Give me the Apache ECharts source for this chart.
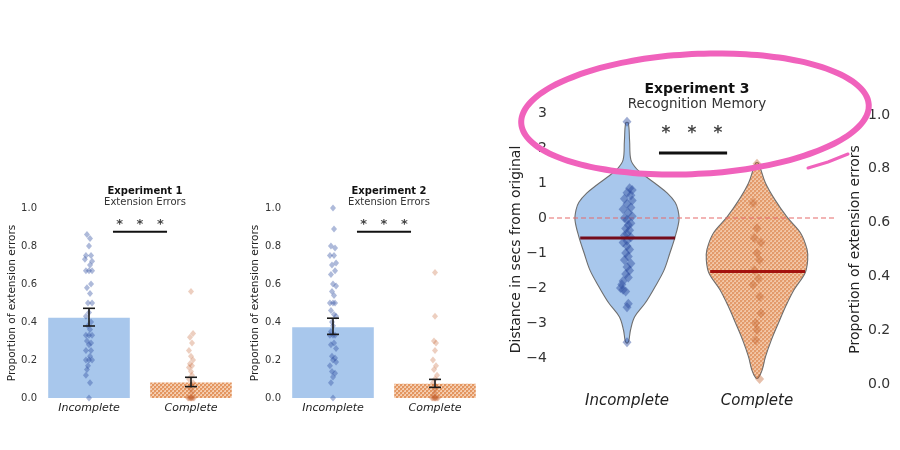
<!DOCTYPE html>
<html><head><meta charset="utf-8">
<script src="https://cdn.jsdelivr.net/npm/echarts@6/dist/echarts.min.js"></script>
<style>html,body{margin:0;padding:0;background:#fff}#c{width:900px;height:450px}</style>
</head><body><div id="c"></div>
<script>
// ---------- data ----------
const cats = ['Incomplete', 'Complete'];

// Experiment 1
const exp1Means = [0.423, 0.081];
const exp1ErrLow = [0.379, 0.06];
const exp1ErrHigh = [0.472, 0.109];
const exp1IncPts = [0.86,0.84,0.8,0.75,0.75,0.73,0.72,0.7,0.67,0.67,0.67,0.6,0.58,0.55,0.5,0.5,0.45,0.43,0.4,0.38,0.36,0.33,0.33,0.33,0.3,0.29,0.28,0.25,0.25,0.22,0.2,0.2,0.2,0.17,0.15,0.12,0.08,0.0];
const exp1IncJit = [-0.02,0.01,0.0,-0.03,0.02,-0.04,0.03,0.01,-0.03,0.0,0.03,0.02,-0.02,0.01,-0.01,0.03,0.0,-0.03,0.02,-0.01,0.01,-0.03,0.0,0.03,-0.02,0.02,0.0,-0.03,0.02,0.01,-0.03,0.0,0.03,-0.01,-0.02,-0.03,0.01,0.0];
const exp1ComPts = [0.56,0.34,0.32,0.29,0.25,0.22,0.2,0.18,0.17,0.16,0.14,0.12,0.1,0.08,0.07,0.05,0.03,0.0,0.0,0.0,0.0,0.0,0.0,0.0,0.0];
const exp1ComJit = [0.0,0.02,-0.01,0.01,-0.02,0.0,0.02,-0.01,0.01,-0.02,0.0,0.01,-0.02,0.02,0.0,-0.01,0.01,-0.03,-0.02,-0.01,0.0,0.01,0.02,0.03,0.0];

// Experiment 2
const exp2Means = [0.373, 0.075];
const exp2ErrLow = [0.335, 0.056];
const exp2ErrHigh = [0.42, 0.098];
const exp2IncPts = [1.0,0.89,0.8,0.79,0.75,0.75,0.71,0.7,0.67,0.65,0.6,0.59,0.56,0.54,0.5,0.5,0.5,0.46,0.44,0.43,0.4,0.38,0.35,0.33,0.33,0.33,0.29,0.28,0.26,0.22,0.21,0.2,0.19,0.17,0.14,0.13,0.11,0.08,0.0];
const exp2IncJit = [0.0,0.01,-0.02,0.02,-0.03,0.01,0.03,-0.01,0.02,-0.02,0.0,0.03,-0.01,0.01,-0.03,0.0,0.02,-0.02,0.01,0.03,-0.01,0.0,-0.02,-0.03,0.0,0.02,0.01,-0.02,0.03,-0.01,0.02,0.0,0.03,-0.03,-0.01,0.02,0.0,-0.02,0.0];
const exp2ComPts = [0.66,0.43,0.3,0.29,0.25,0.2,0.17,0.15,0.12,0.1,0.08,0.06,0.04,0.02,0.0,0.0,0.0,0.0,0.0,0.0,0.0,0.0];
const exp2ComJit = [0.0,0.0,-0.01,0.01,0.0,-0.02,0.01,-0.01,0.02,0.0,-0.02,0.01,0.0,-0.01,-0.03,-0.02,-0.01,0.0,0.01,0.02,0.03,0.0];

// Experiment 3 (violins: value levels and half-widths)
const exp3IncViolinY = [2.72,2.2,1.66,1.4,1.17,0.95,0.71,0.45,0.23,-0.06,-0.54,-1.0,-1.49,-1.97,-2.43,-2.83,-3.2,-3.49,-3.57];
const exp3IncViolinW = [0.01,0.02,0.03,0.075,0.15,0.23,0.31,0.37,0.392,0.4,0.37,0.33,0.285,0.215,0.14,0.058,0.027,0.015,0.005];
const exp3ComViolinY = [1.57,1.0,0.51,0.03,-0.43,-0.9,-1.2,-1.57,-2.05,-2.53,-3.0,-3.49,-3.97,-4.34,-4.57];
const exp3ComViolinW = [0.01,0.065,0.14,0.23,0.335,0.385,0.39,0.37,0.285,0.22,0.165,0.11,0.065,0.04,0.01];
const exp3Means = [-0.57, -1.53];
const exp3IncPts = [2.75,0.85,0.8,0.72,0.65,0.55,0.5,0.4,0.3,0.25,0.15,0.05,0.0,-0.05,-0.15,-0.2,-0.3,-0.35,-0.45,-0.5,-0.55,-0.65,-0.7,-0.8,-0.9,-1.0,-1.1,-1.2,-1.3,-1.4,-1.5,-1.6,-1.7,-1.8,-1.9,-2.0,-2.05,-2.1,-2.45,-2.55,-3.55];
const exp3IncJit = [0.0,0.02,0.04,0.0,0.03,-0.02,0.04,0.0,0.03,-0.03,0.01,0.04,-0.02,0.0,0.03,0.01,-0.01,0.02,0.0,-0.02,0.03,0.0,-0.03,0.0,0.02,-0.01,0.01,-0.02,0.03,0.0,0.02,-0.01,0.01,-0.03,-0.04,-0.05,-0.03,-0.01,0.01,0.0,0.0];
const exp3ComPts = [1.55,0.43,-0.29,-0.57,-0.7,-1.0,-1.2,-1.49,-1.73,-1.91,-2.25,-2.72,-3.0,-3.2,-3.49,-4.6];
const exp3ComJit = [0.0,-0.03,0.0,-0.02,0.03,0.0,0.02,-0.02,0.01,-0.03,0.02,0.03,-0.01,0.0,-0.01,0.02];
const zeroLine = [[-0.6, 0], [1.6, 0]];

// annotation positions (data coords)
const sig12Line = [[0.235, 0.875], [0.765, 0.875]];
const sig12Stars = [[0.3, 0.926], [0.5, 0.926], [0.7, 0.926]];
const sig3Line = [[0.246, 1.857], [0.77, 1.857]];
const sig3Stars = [[0.3, 2.52], [0.5, 2.52], [0.7, 2.52]];

// ---------- helpers ----------
const FONT = 'DejaVu Sans';
const BLUE_FILL = '#a8c7ec';
const BLUE_PT = '#2a4a9e';
const ORANGE_PT = '#c2612e';

function hatch(base, dark, mid) {
  const c = document.createElement('canvas');
  c.width = 4; c.height = 4;
  const g = c.getContext('2d');
  g.fillStyle = base; g.fillRect(0, 0, 4, 4);
  g.fillStyle = dark;
  g.fillRect(0, 0, 2, 2); g.fillRect(2, 2, 2, 2);
  g.fillStyle = mid;
  g.fillRect(2, 0, 1, 1); g.fillRect(0, 2, 1, 1);
  return c;
}
const hatchBar = { image: hatch('#f5cfb2', '#e39661', '#eeb58d'), repeat: 'repeat' };
const hatchViolin = { image: hatch('#f2c6a6', '#e39b6c', '#ecb38c'), repeat: 'repeat' };

const pts = (vals, jit, center) => vals.map((v, i) => [center + jit[i], v]);

function errRender(cap) {
  return function (params, api) {
    const x = api.value(0), lo = api.value(1), hi = api.value(2);
    const a = api.coord([x, lo]), b = api.coord([x, hi]);
    const st = { stroke: '#1a1a1a', lineWidth: 1.6 };
    return { type: 'group', children: [
      { type: 'line', shape: { x1: a[0], y1: a[1], x2: b[0], y2: b[1] }, style: st },
      { type: 'line', shape: { x1: a[0] - cap, y1: a[1], x2: a[0] + cap, y2: a[1] }, style: st },
      { type: 'line', shape: { x1: b[0] - cap, y1: b[1], x2: b[0] + cap, y2: b[1] }, style: st }
    ]};
  };
}

const violins = [
  { y: exp3IncViolinY, w: exp3IncViolinW },
  { y: exp3ComViolinY, w: exp3ComViolinW }
];
function violinRender(params, api) {
  const i = params.dataIndex, pos = api.value(0), v = violins[i];
  const p = [];
  for (let k = 0; k < v.y.length; k++) p.push(api.coord([pos + v.w[k], v.y[k]]));
  for (let k = v.y.length - 1; k >= 0; k--) p.push(api.coord([pos - v.w[k], v.y[k]]));
  return { type: 'polygon', shape: { points: p, smooth: 0.35 },
    style: { fill: i === 0 ? BLUE_FILL : hatchViolin, stroke: '#6e6e6e', lineWidth: 1.1 } };
}
function meanRender(params, api) {
  const x = api.value(0), m = api.value(1);
  const a = api.coord([x - 0.36, m]), b = api.coord([x + 0.37, m]);
  return { type: 'line', shape: { x1: a[0], y1: a[1], x2: b[0], y2: b[1] },
    style: { stroke: params.dataIndex === 0 ? '#750c1c' : '#a3120e', lineWidth: 3 } };
}

const starSeries = (xi, yi, data, fs, dy) => ({
  type: 'scatter', xAxisIndex: xi, yAxisIndex: yi, data: data, symbolSize: 2,
  itemStyle: { color: 'rgba(0,0,0,0)' }, silent: true,
  label: { show: true, position: 'inside', formatter: '*', fontSize: fs, fontFamily: FONT,
    color: '#111', fontWeight: 'bold', offset: [0, dy] }, z: 6 });

function barPanel(xCat, xVal, yIdx, means, lo, hi, incP, incJ, comP, comJ) {
  return [
    { type: 'bar', xAxisIndex: xCat, yAxisIndex: yIdx, barWidth: '80%',
      data: [ { value: means[0], itemStyle: { color: BLUE_FILL } },
              { value: means[1], itemStyle: { color: hatchBar } } ], z: 1, silent: true },
    { type: 'scatter', xAxisIndex: xVal, yAxisIndex: yIdx, symbol: 'diamond', symbolSize: [6, 7],
      itemStyle: { color: BLUE_PT, opacity: 0.38 }, data: pts(incP, incJ, 0), z: 3 },
    { type: 'scatter', xAxisIndex: xVal, yAxisIndex: yIdx, symbol: 'diamond', symbolSize: [6, 7],
      itemStyle: { color: ORANGE_PT, opacity: 0.3 }, data: pts(comP, comJ, 1), z: 3 },
    { type: 'custom', xAxisIndex: xVal, yAxisIndex: yIdx, renderItem: errRender(6),
      data: [[0, lo[0], hi[0]], [1, lo[1], hi[1]]], z: 5 },
    { type: 'line', xAxisIndex: xVal, yAxisIndex: yIdx, data: sig12Line, symbol: 'none',
      lineStyle: { color: '#111', width: 2 }, z: 5 },
    starSeries(xVal, yIdx, sig12Stars, 13, 3)
  ];
}

const catAxis = (gi, fs) => ({ type: 'category', gridIndex: gi, data: cats,
  axisLine: { show: false }, axisTick: { show: false },
  axisLabel: { fontStyle: 'italic', fontSize: fs, color: '#222', fontFamily: FONT, margin: 5 } });
const hidX = (gi, mn, mx) => ({ type: 'value', gridIndex: gi, min: mn, max: mx, show: false });
const propY = (gi, name, gap) => ({ type: 'value', gridIndex: gi, min: 0, max: 1, interval: 0.2,
  splitLine: { show: false }, axisLine: { show: false }, axisTick: { show: false },
  axisLabel: { formatter: v => v.toFixed(1), fontSize: 10, color: '#333', fontFamily: FONT, margin: 1 },
  name: name, nameLocation: 'middle', nameGap: gap, nameRotate: 90, nameMoveOverlap: false,
  nameTextStyle: { fontSize: 10.5, color: '#222', fontFamily: FONT } });

// pink hand-drawn ellipse annotation
const ell = [];
{
  const cx = 695, cy = 114, rx = 174, ry = 60, rot = -3 * Math.PI / 180;
  for (let t = 0; t <= 360; t += 4) {
    const a = t * Math.PI / 180;
    const x0 = rx * Math.cos(a), y0 = ry * Math.sin(a);
    ell.push([cx + x0 * Math.cos(rot) - y0 * Math.sin(rot), cy + x0 * Math.sin(rot) + y0 * Math.cos(rot)]);
  }
}

const option = {
  animation: false,
  textStyle: { fontFamily: FONT },
  title: [
    { text: 'Experiment 1', subtext: 'Extension Errors', left: 140, top: 181, textAlign: 'center', itemGap: 1,
      textStyle: { fontSize: 10, fontWeight: 'bold', color: '#111', fontFamily: FONT },
      subtextStyle: { fontSize: 10, color: '#333', fontFamily: FONT } },
    { text: 'Experiment 2', subtext: 'Extension Errors', left: 384, top: 181, textAlign: 'center', itemGap: 1,
      textStyle: { fontSize: 10, fontWeight: 'bold', color: '#111', fontFamily: FONT },
      subtextStyle: { fontSize: 10, color: '#333', fontFamily: FONT } },
    { text: 'Experiment 3', subtext: 'Recognition Memory', left: 692, top: 77, textAlign: 'center', itemGap: 1,
      textStyle: { fontSize: 14, fontWeight: 'bold', color: '#111', fontFamily: FONT },
      subtextStyle: { fontSize: 13.5, color: '#333', fontFamily: FONT } }
  ],
  grid: [
    { left: 38, top: 208, width: 204, height: 190 },
    { left: 282, top: 208, width: 204, height: 190 },
    { left: 549, top: 106, width: 286, height: 287 },
    { left: 549, top: 115, width: 286, height: 269 }
  ],
  xAxis: [
    catAxis(0, 11), hidX(0, -0.5, 1.5),
    catAxis(1, 11), hidX(1, -0.5, 1.5),
    { type: 'value', gridIndex: 2, min: -0.6, max: 1.6,
      axisLine: { show: false }, axisTick: { show: false }, splitLine: { show: false },
      axisLabel: { customValues: [0, 1], formatter: v => cats[Math.round(v)], fontStyle: 'italic',
        fontSize: 15, color: '#222', fontFamily: FONT, margin: 1 } },
    hidX(3, 0, 1)
  ],
  yAxis: [
    propY(0, 'Proportion of extension errors', 20),
    propY(1, 'Proportion of extension errors', 21),
    { type: 'value', gridIndex: 2, min: -5, max: 3.2, interval: 1,
      splitLine: { show: false }, axisLine: { show: false }, axisTick: { show: false },
      axisLabel: { formatter: v => (Number.isInteger(v) && v >= -4) ? String(v).replace('-', '\u2212') : '',
        fontSize: 14, color: '#333', fontFamily: FONT, margin: 2 },
      name: 'Distance in secs from original', nameLocation: 'middle', nameGap: 26, nameRotate: 90,
      nameMoveOverlap: false,
      nameTextStyle: { fontSize: 14, color: '#222', fontFamily: FONT } },
    { type: 'value', gridIndex: 3, position: 'right', min: 0, max: 1, interval: 0.2,
      splitLine: { show: false }, axisLine: { show: false }, axisTick: { show: false },
      axisLabel: { formatter: v => v.toFixed(1), fontSize: 14, color: '#333', fontFamily: FONT, margin: 33 },
      name: 'Proportion of extension errors', nameLocation: 'middle', nameGap: 13, nameRotate: 90,
      nameMoveOverlap: false,
      nameTextStyle: { fontSize: 14, color: '#222', fontFamily: FONT } }
  ],
  series: [
    ...barPanel(0, 1, 0, exp1Means, exp1ErrLow, exp1ErrHigh, exp1IncPts, exp1IncJit, exp1ComPts, exp1ComJit),
    ...barPanel(2, 3, 1, exp2Means, exp2ErrLow, exp2ErrHigh, exp2IncPts, exp2IncJit, exp2ComPts, exp2ComJit),
    { type: 'custom', xAxisIndex: 4, yAxisIndex: 2, renderItem: violinRender, data: [[0], [1]], z: 1 },
    { type: 'line', xAxisIndex: 4, yAxisIndex: 2, data: zeroLine, symbol: 'none',
      lineStyle: { color: '#e56b6b', width: 1.2, type: [5, 3] }, z: 2 },
    { type: 'scatter', xAxisIndex: 4, yAxisIndex: 2, symbol: 'diamond', symbolSize: [9, 10],
      itemStyle: { color: BLUE_PT, opacity: 0.45 }, data: pts(exp3IncPts, exp3IncJit, 0), z: 3 },
    { type: 'scatter', xAxisIndex: 4, yAxisIndex: 2, symbol: 'diamond', symbolSize: [9, 10],
      itemStyle: { color: ORANGE_PT, opacity: 0.4 }, data: pts(exp3ComPts, exp3ComJit, 1), z: 3 },
    { type: 'custom', xAxisIndex: 4, yAxisIndex: 2, renderItem: meanRender,
      data: [[0, exp3Means[0]], [1, exp3Means[1]]], z: 4 },
    { type: 'line', xAxisIndex: 4, yAxisIndex: 2, data: sig3Line, symbol: 'none',
      lineStyle: { color: '#111', width: 3 }, z: 5 },
    starSeries(4, 2, sig3Stars, 17, 4)
  ],
  graphic: [
    { type: 'polyline', shape: { points: ell, smooth: 0.3 }, z: 100,
      style: { stroke: '#f062bc', lineWidth: 6, fill: null, lineCap: 'round' } },
    { type: 'polyline', shape: { points: [[808, 168], [828, 162], [848, 154]] }, z: 100,
      style: { stroke: '#f062bc', lineWidth: 3, fill: null, lineCap: 'round' } }
  ]
};
echarts.init(document.getElementById('c'), null, { renderer: 'canvas' }).setOption(option);
</script></body></html>
